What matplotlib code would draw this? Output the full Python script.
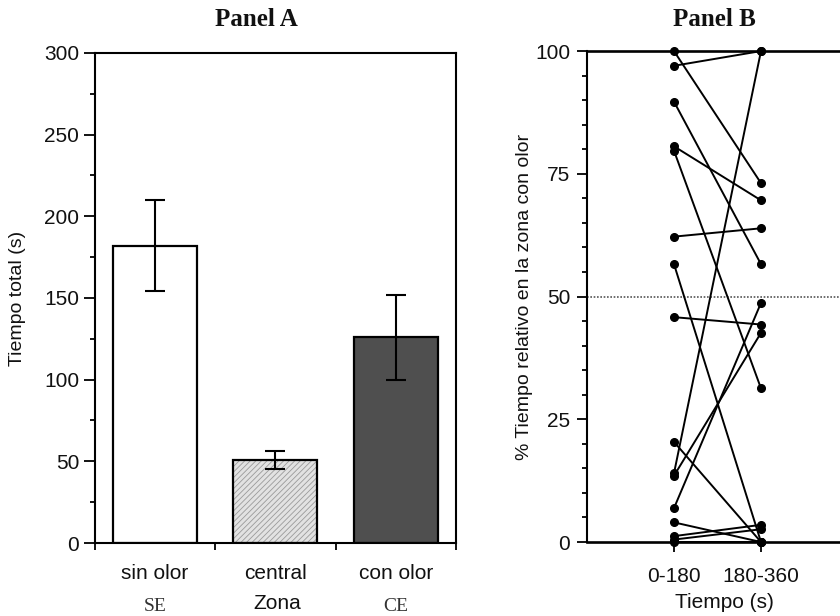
import matplotlib
matplotlib.use('Agg')
import matplotlib.pyplot as plt
import matplotlib.transforms as mtransforms
from matplotlib.ticker import MultipleLocator, FixedLocator
import numpy as np

# ---------------- data ----------------
zones = ['sin olor', 'central', 'con olor']
zone_codes = ['SE', '', 'CE']
mean_time = [182, 51, 126]
sem_time = [28, 5.5, 26]

periods = ['0-180', '180-360']
pct_first = [100, 97, 89.7, 80.6, 79.7, 62.2, 56.6, 45.8, 20.4, 14.0, 13.5, 6.9, 4.0, 1.2, 0.5, 0]
pct_second = [73.1, 100, 56.6, 69.6, 31.3, 63.9, 0, 44.3, 0, 100, 42.6, 48.7, 0, 3.5, 2.6, 0]

# ---------------- style ----------------
plt.rcParams['font.family'] = ['Liberation Sans', 'DejaVu Sans']
plt.rcParams['hatch.linewidth'] = 0.6
SERIF = ['Liberation Serif', 'DejaVu Serif']
INK = '#111111'

fig = plt.figure(figsize=(8.4, 6.16), dpi=100)

# ---------------- Panel A ----------------
axA = fig.add_axes([0.1125, 0.1185, 0.4304, 0.7955])
x = np.arange(len(zones))
fills = ['white', '#e2e2e2', '#4f4f4f']
hatch_col = ['white', '#9a9a9a', '#4f4f4f']
base = axA.bar(x, mean_time, width=0.70, color=fills, edgecolor=hatch_col,
               linewidth=0, zorder=2)
base[1].set_hatch('//////')
axA.bar(x, mean_time, width=0.70, fill=False, edgecolor='black',
        linewidth=1.6, zorder=3)
axA.errorbar(x, mean_time, yerr=sem_time, fmt='none', ecolor='black',
             elinewidth=1.5, capsize=7, capthick=1.5, zorder=4)

axA.set_xlim(-0.5, 2.5)
axA.set_ylim(0, 300)
axA.set_yticks(np.arange(0, 301, 50))
axA.yaxis.set_minor_locator(MultipleLocator(25))
axA.set_xticks(x)
axA.set_xticklabels(zones)
axA.xaxis.set_minor_locator(FixedLocator([-0.5, 0.5, 1.5, 2.5]))
axA.tick_params(axis='x', which='major', length=0, pad=15, labelsize=15, labelcolor=INK)
axA.tick_params(axis='x', which='minor', length=5, width=1.3, direction='out')
axA.tick_params(axis='y', which='major', length=8, width=1.3, pad=3, labelsize=15, labelcolor=INK)
axA.tick_params(axis='y', which='minor', length=3.3, width=1.3)
for s in axA.spines.values():
    s.set_linewidth(1.5)

axA.set_ylabel('Tiempo total (s)', fontsize=14, color=INK)
axA.yaxis.set_label_coords(-0.19, 0.5)
axA.set_xlabel('Zona', fontsize=15, color=INK)
axA.xaxis.set_label_coords(0.505, -0.104)

trA = mtransforms.blended_transform_factory(axA.transData, axA.transAxes)
for xi, code in zip(x, zone_codes):
    if code:
        axA.text(xi, -0.113, code, transform=trA, ha='center', va='top',
                 fontsize=14, family=SERIF, color='#333333')

fig.text(256 / 840, 1 - 20 / 616, 'Panel A', ha='center', va='center',
         fontsize=18, fontweight='bold', family=SERIF, color=INK)

# ---------------- Panel B ----------------
axB = fig.add_axes([0.6988, 0.1201, 0.3107, 0.797])
xb = [1, 2]
axB.axhline(50, ls=(0, (1, 1)), lw=1.2, color='#555555', zorder=1)
for a, b in zip(pct_first, pct_second):
    axB.plot(xb, [a, b], '-o', color='black', lw=1.4, ms=5.5,
             clip_on=False, zorder=3)

axB.set_xlim(0, 3)
axB.set_ylim(0, 100)
axB.set_yticks([0, 25, 50, 75, 100])
axB.yaxis.set_minor_locator(MultipleLocator(5))
axB.set_xticks(xb)
axB.set_xticklabels(periods)
axB.tick_params(axis='x', which='major', length=7, width=1.3, pad=11, labelsize=15, labelcolor=INK)
axB.tick_params(axis='y', which='major', length=7, width=1.3, pad=5, labelsize=15, labelcolor=INK)
axB.tick_params(axis='y', which='minor', length=3.5, width=1.3)
axB.spines['top'].set_linewidth(1.9)
axB.spines['bottom'].set_linewidth(1.9)
axB.spines['left'].set_linewidth(1.5)
axB.spines['right'].set_linewidth(1.5)

axB.set_ylabel('% Tiempo relativo en la zona con olor', fontsize=14, color=INK)
axB.yaxis.set_label_coords(-0.207, 0.5)
axB.set_xlabel('Tiempo (s)', fontsize=15, color=INK)
axB.xaxis.set_label_coords(0.525, -0.104)

fig.text(714 / 840, 1 - 20 / 616, 'Panel B', ha='center', va='center',
         fontsize=18, fontweight='bold', family=SERIF, color=INK)

fig.savefig('out.png', dpi=100)
